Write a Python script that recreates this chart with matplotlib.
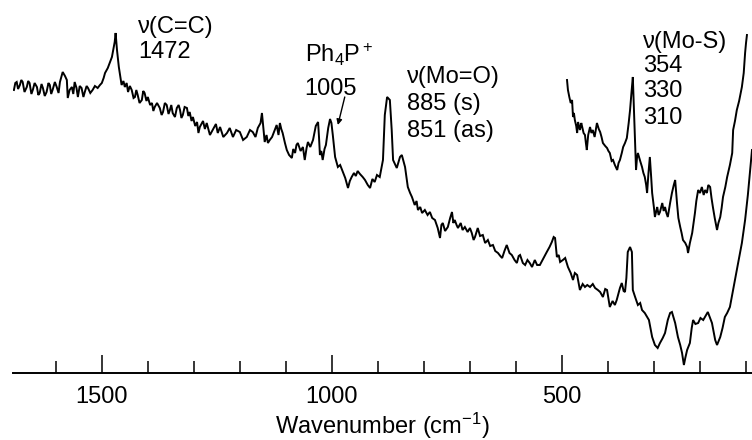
import matplotlib
matplotlib.use("Agg")
import matplotlib.pyplot as plt
from matplotlib.ticker import FixedLocator

plt.rcParams['font.family'] = ['Liberation Sans', 'DejaVu Sans']
plt.rcParams['mathtext.fontset'] = 'custom'
plt.rcParams['mathtext.rm'] = 'Liberation Sans'
plt.rcParams['mathtext.it'] = 'Liberation Sans'
plt.rcParams['mathtext.default'] = 'regular'

# Main Raman trace: (wavenumber cm-1, intensity a.u.)
main_trace = [
    (1691, 283), (1688, 290), (1685, 291), (1682, 284), (1678, 288), (1675, 293), (1672, 291),
    (1668, 281), (1663, 286), (1660, 292), (1657, 290), (1653, 279), (1650, 283), (1646, 290),
    (1641, 286), (1638, 278), (1635, 280), (1631, 289), (1628, 285), (1624, 277), (1620, 281),
    (1616, 290), (1613, 288), (1610, 279), (1607, 283), (1602, 291), (1598, 286), (1594, 280),
    (1591, 291), (1588, 296), (1585, 301), (1580, 297), (1576, 293), (1574, 275), (1570, 283),
    (1565, 286), (1562, 279), (1559, 291), (1555, 285), (1552, 276), (1548, 287), (1544, 285),
    (1540, 276), (1537, 281), (1533, 287), (1530, 285), (1525, 280), (1520, 283), (1515, 287),
    (1509, 285), (1504, 288), (1500, 290), (1496, 295), (1493, 300), (1487, 305), (1478, 316),
    (1472, 331), (1470, 340), (1467, 323), (1463, 306), (1457, 288), (1453, 292), (1450, 286),
    (1446, 290), (1443, 281), (1439, 287), (1435, 283), (1431, 275), (1428, 276), (1425, 283),
    (1422, 278), (1418, 270), (1413, 273), (1410, 282), (1407, 280), (1403, 272), (1400, 276),
    (1395, 268), (1391, 270), (1388, 262), (1385, 266), (1380, 270), (1374, 265), (1370, 258),
    (1367, 261), (1363, 270), (1359, 268), (1355, 259), (1352, 263), (1349, 268), (1346, 260),
    (1341, 256), (1337, 265), (1333, 268), (1330, 263), (1327, 255), (1324, 258), (1320, 266),
    (1315, 265), (1312, 257), (1309, 261), (1305, 252), (1302, 256), (1297, 247), (1293, 251),
    (1290, 240), (1287, 246), (1280, 252), (1276, 244), (1272, 250), (1265, 238), (1259, 243),
    (1252, 249), (1248, 240), (1243, 246), (1236, 236), (1228, 240), (1222, 245), (1215, 236),
    (1208, 243), (1200, 241), (1193, 233), (1185, 236), (1178, 243), (1172, 241), (1166, 236),
    (1161, 245), (1155, 250), (1152, 260), (1149, 245), (1146, 231), (1142, 238), (1139, 230),
    (1135, 233), (1130, 236), (1125, 242), (1120, 248), (1116, 238), (1113, 250), (1110, 244),
    (1107, 240), (1102, 230), (1098, 223), (1093, 218), (1087, 215), (1084, 224), (1080, 220),
    (1077, 228), (1074, 230), (1068, 222), (1063, 226), (1059, 213), (1055, 225), (1052, 231),
    (1047, 226), (1041, 233), (1038, 240), (1035, 247), (1030, 251), (1028, 236), (1026, 218),
    (1023, 222), (1020, 213), (1016, 224), (1013, 228), (1008, 245), (1004, 254), (1001, 250),
    (998, 238), (993, 216), (987, 206), (982, 208), (976, 201), (971, 195), (965, 185),
    (961, 192), (957, 196), (952, 200), (948, 197), (944, 202), (939, 199), (933, 196),
    (928, 193), (922, 188), (917, 185), (912, 194), (907, 191), (902, 198), (896, 196),
    (889, 213), (885, 258), (880, 276), (874, 273), (870, 243), (867, 213), (859, 205),
    (852, 216), (848, 218), (841, 206), (835, 186), (830, 180), (826, 176), (820, 168),
    (816, 172), (813, 163), (808, 166), (804, 160), (798, 163), (792, 158), (787, 161),
    (782, 155), (776, 153), (770, 145), (765, 135), (762, 148), (759, 150), (754, 142),
    (748, 146), (743, 155), (739, 161), (736, 150), (733, 153), (729, 148), (726, 145),
    (720, 150), (716, 143), (711, 146), (705, 141), (700, 145), (696, 140), (692, 133),
    (689, 136), (683, 145), (678, 137), (672, 138), (667, 130), (661, 133), (656, 127),
    (650, 128), (645, 122), (639, 120), (634, 117), (630, 115), (625, 122), (620, 128),
    (614, 120), (609, 118), (603, 113), (598, 110), (594, 117), (591, 118), (585, 110),
    (580, 108), (575, 113), (570, 110), (565, 106), (559, 113), (554, 108), (548, 108),
    (540, 115), (533, 121), (527, 126), (522, 131), (518, 136), (515, 135), (511, 116),
    (507, 118), (504, 111), (498, 113), (493, 115), (487, 106), (481, 100), (476, 93),
    (472, 100), (467, 98), (461, 83), (455, 89), (450, 86), (445, 88), (439, 86),
    (433, 89), (428, 85), (422, 83), (417, 81), (411, 76), (406, 84), (402, 83),
    (396, 66), (390, 72), (385, 68), (381, 73), (378, 78), (374, 85), (370, 90),
    (366, 82), (363, 81), (360, 95), (357, 121), (352, 126), (348, 121), (346, 83),
    (341, 76), (335, 68), (330, 70), (326, 63), (320, 60), (315, 56), (311, 53),
    (304, 36), (298, 28), (292, 25), (287, 30), (281, 35), (276, 40), (270, 53),
    (265, 60), (261, 61), (254, 50), (248, 36), (243, 28), (239, 20), (235, 8),
    (232, 15), (228, 23), (222, 30), (218, 45), (215, 53), (210, 49), (204, 50),
    (199, 55), (193, 53), (188, 57), (183, 61), (178, 55), (174, 50), (170, 40),
    (167, 33), (163, 28), (156, 36), (151, 45), (146, 56), (141, 60), (135, 66),
    (128, 83), (120, 103), (109, 130), (102, 153), (96, 178), (87, 223),
]

# Expanded low-wavenumber trace: (wavenumber cm-1, intensity a.u.)
low_trace = [
    (489, 293), (487, 283), (484, 276), (481, 270), (478, 273), (476, 256), (474, 260),
    (472, 253), (469, 247), (467, 240), (465, 251), (461, 243), (458, 250), (456, 246),
    (453, 240), (450, 238), (448, 230), (446, 223), (443, 238), (439, 246), (436, 240),
    (433, 243), (429, 236), (424, 250), (420, 244), (417, 241), (414, 236), (411, 230),
    (406, 227), (402, 225), (399, 222), (396, 220), (392, 212), (389, 213), (385, 208),
    (380, 203), (377, 210), (374, 213), (370, 220), (367, 226), (363, 230), (359, 235),
    (355, 250), (352, 263), (349, 280), (346, 296), (343, 256), (339, 203), (337, 215),
    (335, 220), (330, 212), (326, 206), (323, 200), (320, 196), (317, 188), (315, 180),
    (312, 200), (309, 216), (306, 195), (304, 180), (300, 165), (298, 156), (295, 162),
    (293, 166), (290, 158), (287, 161), (282, 170), (279, 162), (276, 166), (273, 160),
    (270, 156), (265, 170), (261, 180), (257, 188), (254, 193), (250, 170), (247, 155),
    (243, 146), (240, 140), (237, 133), (232, 130), (228, 126), (226, 120), (222, 130),
    (217, 140), (214, 150), (211, 160), (208, 172), (204, 183), (200, 180), (196, 186),
    (192, 178), (189, 183), (185, 180), (182, 188), (178, 186), (175, 175), (172, 166),
    (168, 155), (163, 143), (160, 150), (156, 156), (153, 165), (150, 176), (145, 186),
    (141, 196), (135, 208), (130, 220), (128, 243), (124, 252), (120, 263), (115, 272),
    (109, 286), (105, 300), (102, 320), (100, 330), (98, 338),
]

major_ticks = [1500, 1000, 500]
minor_ticks = [1600, 1400, 1300, 1200, 1100, 900, 800, 700, 600, 400, 300, 200, 100]

fig = plt.figure(figsize=(7.52, 4.40), dpi=100)
ax = fig.add_axes([13 / 752, 67 / 440, 739 / 752, 373 / 440])
for trace in (main_trace, low_trace):
    wn, inten = zip(*trace)
    ax.plot(wn, inten, color='black', lw=1.4, solid_joinstyle='miter')
ax.set_xlim(1693, 87)
ax.set_ylim(0, 373)

for s in ['top', 'left', 'right']:
    ax.spines[s].set_visible(False)
ax.spines['bottom'].set_linewidth(1.4)
ax.set_yticks([])
ax.xaxis.set_major_locator(FixedLocator(major_ticks))
ax.xaxis.set_minor_locator(FixedLocator(minor_ticks))
ax.set_xticklabels([str(t) for t in major_ticks])
ax.tick_params(axis='x', which='major', direction='in', length=13, width=1.1,
               labelsize=17, pad=9)
ax.tick_params(axis='x', which='minor', direction='in', length=8.5, width=1.1)
ax.set_xlabel('Wavenumber (cm$^{-1}$)', fontsize=17, labelpad=2.5)

fs = 17
ax.text(1422, 340, '\u03bd(C=C)', fontsize=fs, va='baseline')
ax.text(1420, 315, '1472', fontsize=fs, va='baseline')
ax.text(1059, 311, 'Ph$_4$P$^+$', fontsize=fs, va='baseline')
ax.text(1059, 278, '1005', fontsize=fs, va='baseline')
ax.text(837, 290, '\u03bd(Mo=O)', fontsize=fs, va='baseline')
ax.text(837, 263, '885 (s)', fontsize=fs, va='baseline')
ax.text(837, 236, '851 (as)', fontsize=fs, va='baseline')
ax.text(324, 325, '\u03bd(Mo-S)', fontsize=fs, va='baseline')
ax.text(324, 301, '354', fontsize=fs, va='baseline')
ax.text(324, 276, '330', fontsize=fs, va='baseline')
ax.text(324, 249, '310', fontsize=fs, va='baseline')
ax.annotate('', xy=(987, 248), xytext=(972, 276),
            arrowprops=dict(arrowstyle='-|>', color='black', lw=1.0,
                            mutation_scale=8, shrinkA=0, shrinkB=0))

fig.savefig('out.png', dpi=100)
